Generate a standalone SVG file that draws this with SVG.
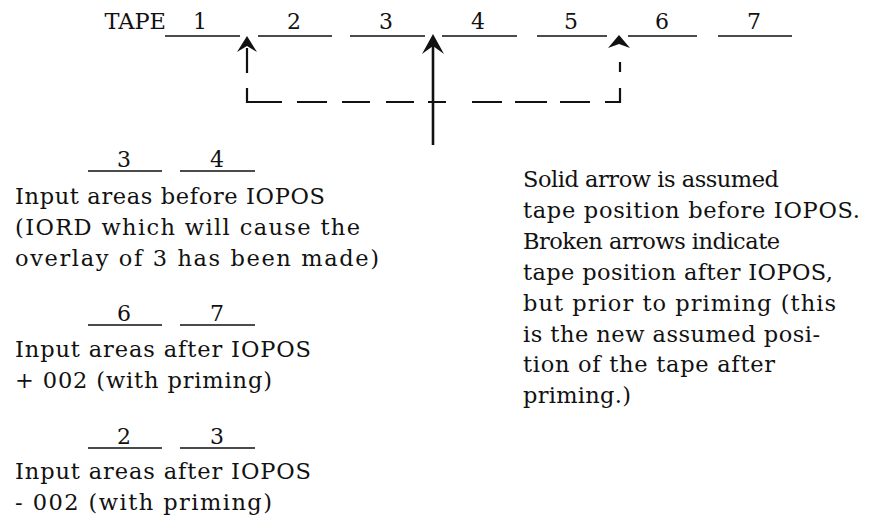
<svg xmlns="http://www.w3.org/2000/svg" width="888" height="531" viewBox="0 0 888 531">
<style>
text{font-family:"DejaVu Serif","Liberation Serif",serif;font-size:22.5px;fill:#111}
.n{text-anchor:middle;font-size:22px}
.ul{stroke:#111;stroke-width:1.6;fill:none}
.dash{stroke:#111;stroke-width:2.2;fill:none}
.solid{stroke:#111;stroke-width:2.6;fill:none}
.head{fill:#111}
</style>
<rect width="888" height="531" fill="#fff"/>
<g id="tape">
<text x="166" y="29" text-anchor="end">TAPE</text>
<text class="n" x="200" y="29">1</text>
<text class="n" x="294" y="29">2</text>
<text class="n" x="386" y="29">3</text>
<text class="n" x="478" y="29">4</text>
<text class="n" x="571" y="29">5</text>
<text class="n" x="662" y="29">6</text>
<text class="n" x="754" y="29">7</text>
<path class="ul" d="M165 36H240M258 36H332M350 36H425M442 36H517M537 36H607M628 36H697M718 36H792"/>
</g>
<g id="connectors">
<path class="dash" d="M247 48V73M247 88V102H282M297 102H327M342 102H370M386 102H414M428 102H446M472 102H502M515 102H547M560 102H590M605 102H620V88M620 72V62"/>
<path class="solid" d="M433 145V44"/>
<path class="head" d="M247 36L257 52L247 46L237 52Z"/>
<path class="head" d="M433 34L444 54L433 46L422 54Z"/>
<path class="head" d="M619 35L630 48L619 44L608 48Z"/>
</g>
<g id="before">
<text class="n" x="124" y="167">3</text>
<text class="n" x="217" y="167">4</text>
<path class="ul" d="M88 171H162M180 171H255"/>
<text x="15" y="204" textLength="310" lengthAdjust="spacing">Input areas before IOPOS</text>
<text x="15" y="235" textLength="345" lengthAdjust="spacing">(IORD which will cause the</text>
<text x="15" y="266" textLength="364" lengthAdjust="spacing">overlay of 3 has been made)</text>
</g>
<g id="after-plus">
<text class="n" x="124" y="321">6</text>
<text class="n" x="217" y="321">7</text>
<path class="ul" d="M88 325H162M180 325H255"/>
<text x="15" y="357" textLength="296" lengthAdjust="spacing">Input areas after IOPOS</text>
<text x="15" y="388" textLength="257" lengthAdjust="spacing">+ 002 (with priming)</text>
</g>
<g id="after-minus">
<text class="n" x="124" y="444">2</text>
<text class="n" x="217" y="444">3</text>
<path class="ul" d="M88 448H162M180 448H255"/>
<text x="15" y="479" textLength="296" lengthAdjust="spacing">Input areas after IOPOS</text>
<text x="15" y="510" textLength="257" lengthAdjust="spacing">- 002 (with priming)</text>
</g>
<g id="note">
<text x="523" y="187" textLength="256" lengthAdjust="spacing">Solid arrow is assumed</text>
<text x="523" y="218" textLength="337" lengthAdjust="spacing">tape position before IOPOS.</text>
<text x="523" y="249" textLength="257" lengthAdjust="spacing">Broken arrows indicate</text>
<text x="523" y="280" textLength="310" lengthAdjust="spacing">tape position after IOPOS,</text>
<text x="523" y="311" textLength="313" lengthAdjust="spacing">but prior to priming (this</text>
<text x="523" y="342" textLength="297" lengthAdjust="spacing">is the new assumed posi-</text>
<text x="523" y="372" textLength="252" lengthAdjust="spacing">tion of the tape after</text>
<text x="523" y="403" textLength="108" lengthAdjust="spacing">priming.)</text>
</g>
</svg>
